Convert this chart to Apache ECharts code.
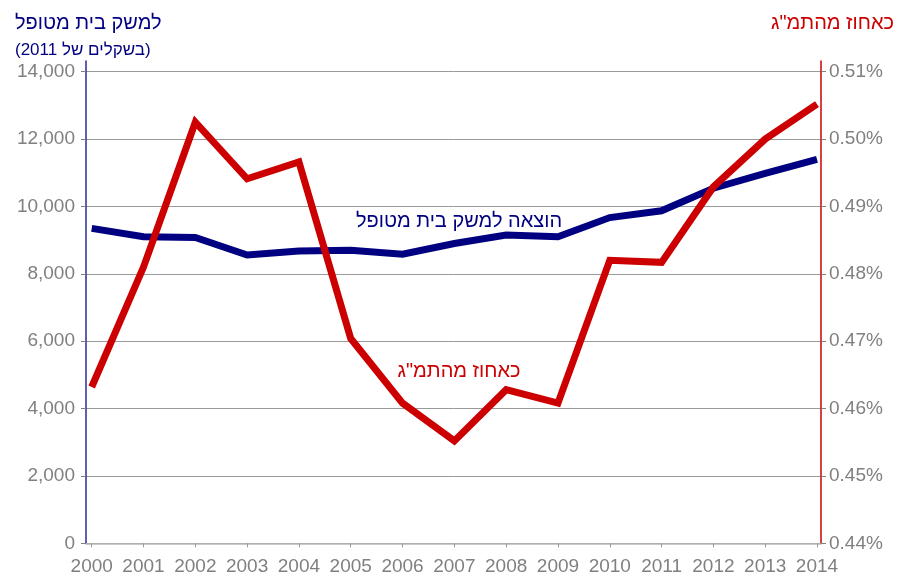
<!DOCTYPE html>
<html>
<head>
<meta charset="utf-8">
<script src="https://cdn.jsdelivr.net/npm/echarts@6/dist/echarts.min.js"></script>
<style>html,body{margin:0;padding:0;background:#fff}#c{width:897px;height:578px}</style>
</head>
<body>
<div id="c"></div>
<script>
var years = ['2000','2001','2002','2003','2004','2005','2006','2007','2008','2009','2010','2011','2012','2013','2014'];
var spending = [9350, 9100, 9080, 8560, 8680, 8700, 8580, 8900, 9150, 9100, 9670, 9870, 10540, 10980, 11400];
var gdpShare = [0.4632, 0.4810, 0.5025, 0.4941, 0.4966, 0.4704, 0.4608, 0.4552, 0.4628, 0.4608, 0.4820, 0.4817, 0.4929, 0.5000, 0.5052];
var leftTitle = 'למשק בית מטופל';
var leftSubtitle = '(בשקלים של 2011)';
var rightTitle = 'כאחוז מהתמ"ג';
var spendingLabel = 'הוצאה למשק בית מטופל';
var gdpLabel = 'כאחוז מהתמ"ג';

var NAVY = '#000080', RED = '#cc0000', GRAY = '#808080';
var FONT = 'Arial, "Liberation Sans", sans-serif';
var chart = echarts.init(document.getElementById('c'), null, {renderer: 'canvas'});

var leftMin = 0, leftMax = 14000, leftInt = 2000;
var rightMin = 0.44, rightMax = 0.51, rightInt = 0.01;

chart.setOption({
  animation: false,
  backgroundColor: '#fff',
  textStyle: {fontFamily: FONT},
  grid: [
    {left: 91.7, right: 80, top: 71.7, bottom: 34.7},
    {left: 86, right: 76, top: 71.7, bottom: 34.7},
    {left: 86, right: 76, top: 61, bottom: 34.7}
  ],
  xAxis: [
    {gridIndex: 0, type: 'category', data: years, boundaryGap: false,
     axisLine: {show: false},
     axisTick: {show: true, length: 4, interval: 0, lineStyle: {color: '#999', width: 1}},
     axisLabel: {color: GRAY, fontSize: 19, margin: 14, interval: 0, fontFamily: FONT},
     splitLine: {show: false}},
    {gridIndex: 1, type: 'value', min: 0, max: 1,
     axisLine: {show: true, lineStyle: {color: '#b8b8b8', width: 1.5}},
     axisTick: {show: false}, axisLabel: {show: false}, splitLine: {show: false}},
    {gridIndex: 2, type: 'value', min: 0, max: 1, show: false}
  ],
  yAxis: [
    {gridIndex: 0, type: 'value', min: leftMin, max: leftMax, interval: leftInt, show: false},
    {gridIndex: 0, type: 'value', min: rightMin, max: rightMax, interval: rightInt, show: false},
    {gridIndex: 1, type: 'value', position: 'left', min: leftMin, max: leftMax, interval: leftInt,
     axisLine: {show: false},
     axisTick: {show: true, length: 5, lineStyle: {color: GRAY}},
     axisLabel: {color: GRAY, fontSize: 19, margin: 11, fontFamily: FONT,
       formatter: function (v) { return v.toString().replace(/\B(?=(\d{3})+(?!\d))/g, ','); }},
     splitLine: {show: true, lineStyle: {color: '#999', width: 1}}},
    {gridIndex: 1, type: 'value', position: 'right', min: rightMin, max: rightMax, interval: rightInt,
     axisLine: {show: false},
     axisTick: {show: true, length: 5, lineStyle: {color: GRAY}},
     axisLabel: {color: GRAY, fontSize: 19, margin: 8, fontFamily: FONT,
       formatter: function (v) { return v.toFixed(2) + '%'; }},
     splitLine: {show: false}},
    {gridIndex: 2, type: 'value', position: 'left', min: 0, max: 1,
     axisLine: {show: true, lineStyle: {color: '#2b2b99', width: 1.5}},
     axisTick: {show: false}, axisLabel: {show: false}, splitLine: {show: false}},
    {gridIndex: 2, type: 'value', position: 'right', min: 0, max: 1,
     axisLine: {show: true, lineStyle: {color: RED, width: 1.5}},
     axisTick: {show: false}, axisLabel: {show: false}, splitLine: {show: false}}
  ],
  series: [
    {type: 'line', name: spendingLabel, xAxisIndex: 0, yAxisIndex: 0, data: spending,
     showSymbol: false, symbol: 'none', z: 3,
     lineStyle: {color: NAVY, width: 7, cap: 'butt', join: 'miter'}},
    {type: 'line', name: gdpLabel, xAxisIndex: 0, yAxisIndex: 1, data: gdpShare,
     showSymbol: false, symbol: 'none', z: 4,
     lineStyle: {color: RED, width: 7, cap: 'butt', join: 'miter'}}
  ],
  graphic: [
    {type: 'text', left: 15, top: 13, style: {text: leftTitle, fill: NAVY, font: '20px ' + FONT}},
    {type: 'text', left: 15, top: 42, style: {text: leftSubtitle, fill: NAVY, font: '17px ' + FONT}},
    {type: 'text', right: 3, top: 13, style: {text: rightTitle, fill: RED, font: '20px ' + FONT}},
    {type: 'text', x: 459, y: 221, style: {text: spendingLabel, fill: NAVY, font: '20px ' + FONT, textAlign: 'center', textVerticalAlign: 'middle'}},
    {type: 'text', x: 459, y: 371, style: {text: gdpLabel, fill: RED, font: '20px ' + FONT, textAlign: 'center', textVerticalAlign: 'middle'}}
  ]
});
</script>
</body>
</html>
